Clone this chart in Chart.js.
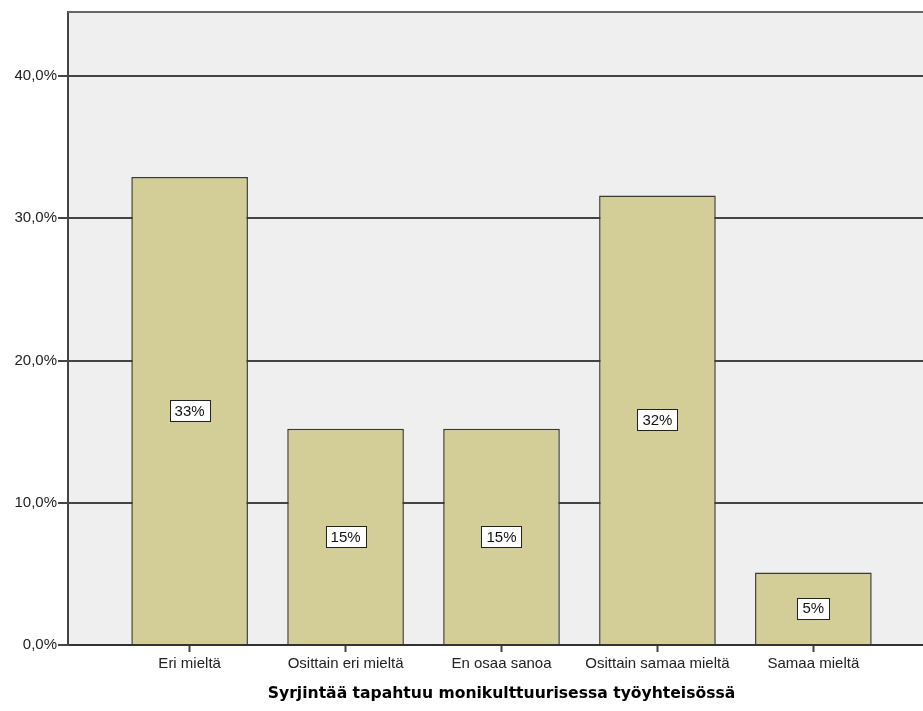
<!DOCTYPE html>
<html>
<head>
<meta charset="utf-8">
<script src="https://cdn.jsdelivr.net/npm/chart.js@4.4.0/dist/chart.umd.min.js"></script>
<style>
  html, body { margin: 0; padding: 0; background: #fff; overflow: hidden; }
</style>
</head>
<body>
<canvas id="chart" width="935" height="711"></canvas>
<script>
// luokat ja osuudet (%)
const categories = ["Eri mieltä", "Osittain eri mieltä", "En osaa sanoa", "Osittain samaa mieltä", "Samaa mieltä"];
const percents = [32.9, 15.2, 15.2, 31.6, 5.1];
const yTicks = [0, 10, 20, 30, 40];
const axisTitle = "Syrjintää tapahtuu monikulttuurisessa työyhteisössä";

// harmaa tausta ja yläreuna
const plotBg = {
  id: 'plotBg',
  beforeDraw(chart) {
    const { ctx, chartArea: a } = chart;
    ctx.save();
    ctx.fillStyle = '#efefef';
    ctx.fillRect(a.left, a.top, a.right - a.left, a.bottom - a.top);
    ctx.restore();
  },
  afterDraw(chart) {
    const { ctx, chartArea: a } = chart;
    ctx.save();
    ctx.strokeStyle = '#666';
    ctx.lineWidth = 2;
    ctx.beginPath();
    ctx.moveTo(a.left, a.top);
    ctx.lineTo(a.right, a.top);
    ctx.stroke();
    ctx.restore();
  }
};

// prosenttilaatikot pylväiden keskelle
const boxLabels = {
  id: 'boxLabels',
  afterDatasetsDraw(chart) {
    const { ctx } = chart;
    const meta = chart.getDatasetMeta(0);
    ctx.save();
    ctx.font = '15px "Liberation Sans", Arial, sans-serif';
    ctx.textAlign = 'center';
    ctx.textBaseline = 'middle';
    meta.data.forEach((bar, i) => {
      const txt = Math.round(percents[i]) + '%';
      const cy = (bar.y + bar.base) / 2;
      const w = Math.round(ctx.measureText(txt).width + 10);
      const h = 21;
      const bx = Math.round(bar.x - w / 2);
      const by = Math.round(cy - h / 2);
      ctx.fillStyle = '#fff';
      ctx.fillRect(bx, by, w, h);
      ctx.strokeStyle = '#222';
      ctx.lineWidth = 1;
      ctx.strokeRect(bx + 0.5, by + 0.5, w, h);
      ctx.fillStyle = '#111';
      ctx.fillText(txt, bar.x, cy + 1);
    });
    ctx.restore();
  }
};

const ctx = document.getElementById('chart').getContext('2d');
new Chart(ctx, {
  type: 'bar',
  data: {
    datasets: [{
      data: percents.map((v, i) => ({ x: i + 1, y: v })),
      backgroundColor: '#d3ce97',
      borderColor: '#3a3a30',
      borderWidth: 1.5,
      categoryPercentage: 1,
      barPercentage: 0.748
    }]
  },
  options: {
    responsive: false,
    animation: false,
    layout: { padding: { top: 12, left: 0, right: 0, bottom: 0 } },
    plugins: {
      legend: { display: false },
      tooltip: { enabled: false }
    },
    scales: {
      x: {
        type: 'linear',
        offset: false,
        min: 0.22,
        max: 5.78,
        afterFit: (scale) => { scale.height = 66; },
        afterBuildTicks: (scale) => { scale.ticks = categories.map((c, i) => ({ value: i + 1 })); },
        ticks: {
          autoSkip: false,
          maxRotation: 0,
          padding: 3,
          color: '#222',
          font: { family: '"Liberation Sans", Arial, sans-serif', size: 15 },
          callback: (v) => categories[v - 1]
        },
        grid: { offset: false, drawOnChartArea: false, drawTicks: true, tickLength: 7, tickColor: '#444', tickWidth: 2 },
        border: { display: true, color: '#333', width: 2 },
        title: {
          display: true,
          text: axisTitle,
          color: '#000',
          font: { family: '"DejaVu Sans", Verdana, sans-serif', size: 15.6, weight: 'bold' },
          padding: { top: 0, bottom: 8 }
        }
      },
      y: {
        min: 0,
        max: 44.5,
        afterFit: (scale) => { scale.width = 68; },
        afterBuildTicks: (scale) => { scale.ticks = yTicks.map(v => ({ value: v })); },
        ticks: {
          padding: 1,
          color: '#222',
          font: { family: '"Liberation Sans", Arial, sans-serif', size: 15 },
          callback: (v) => v.toFixed(1).replace('.', ',') + '%'
        },
        grid: { color: '#444', lineWidth: 2, tickLength: 10, tickColor: '#444' },
        border: { display: true, color: '#444', width: 2 }
      }
    }
  },
  plugins: [plotBg, boxLabels]
});
</script>
</body>
</html>
